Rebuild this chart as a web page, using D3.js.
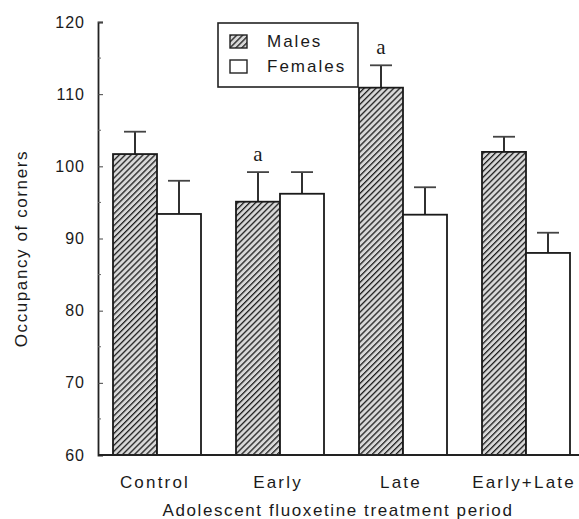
<!DOCTYPE html>
<html>
<head>
<meta charset="utf-8">
<script src="https://cdn.jsdelivr.net/npm/d3@7"></script>
<style>
  body { margin: 0; background: #fff; }
  text { font-family: "Liberation Sans", Arial, sans-serif; fill: #1a1a1a; }
</style>
</head>
<body>
<svg width="579" height="519"></svg>
<script>
const width = 579;
const height = 519;
const margin = { top: 22, right: 1, bottom: 64, left: 98 };

// data
const periods = ["Control", "Early", "Late", "Early+Late"];
const groups = ["Males", "Females"];
const males = [101.7, 95.1, 110.9, 102.0];
const malesErr = [3.1, 4.1, 3.1, 2.1];
const females = [93.4, 96.2, 93.3, 88.0];
const femalesErr = [4.6, 3.0, 3.8, 2.8];
const marks = ["", "a", "a", ""];
const yTicks = [60, 70, 80, 90, 100, 110, 120];

const svg = d3.select("svg");

// diagonal hatch for males
const pat = svg.append("defs").append("pattern")
  .attr("id", "hatch")
  .attr("patternUnits", "userSpaceOnUse")
  .attr("width", 4.2)
  .attr("height", 4.2)
  .attr("patternTransform", "rotate(45)");
pat.append("rect").attr("width", 4.2).attr("height", 4.2).attr("fill", "#d8d8d8");
pat.append("line")
  .attr("x1", 0).attr("y1", 0).attr("x2", 0).attr("y2", 4.2)
  .attr("stroke", "#1e1e1e").attr("stroke-width", 2.6);

const x0 = d3.scaleBand()
  .domain(periods)
  .range([113, 113 + 4 * 123]);

const x1 = d3.scaleBand()
  .domain(groups)
  .range([0, 88]);

const y = d3.scaleLinear()
  .domain([60, 120])
  .range([height - margin.bottom, margin.top]);

// y axis, ticks pointing inward
const yG = svg.append("g")
  .attr("transform", `translate(${margin.left},0)`)
  .call(d3.axisLeft(y)
    .tickValues(yTicks)
    .tickSize(-5)
    .tickPadding(13)
    .tickFormat(d3.format("d")));
yG.select(".domain").attr("stroke", "#222").attr("stroke-width", 1.8);
yG.selectAll(".tick line").attr("stroke", "#444");
yG.selectAll(".tick text")
  .attr("font-size", 16)
  .attr("letter-spacing", 1)
  .attr("fill", "#1a1a1a");

// minor ticks
svg.append("g")
  .selectAll("line")
  .data(d3.range(65, 120, 10))
  .join("line")
  .attr("x1", margin.left)
  .attr("x2", margin.left + 3)
  .attr("y1", d => y(d))
  .attr("y2", d => y(d))
  .attr("stroke", "#666");

const series = [
  { name: "Males", vals: males, err: malesErr, fill: "url(#hatch)" },
  { name: "Females", vals: females, err: femalesErr, fill: "#fff" }
];

const cx = (i, name) => x0(periods[i]) + x1(name) + x1.bandwidth() / 2;

series.forEach(s => {
  const g = svg.append("g");
  g.selectAll("rect")
    .data(s.vals)
    .join("rect")
    .attr("x", (d, i) => x0(periods[i]) + x1(s.name))
    .attr("y", d => y(d))
    .attr("width", x1.bandwidth())
    .attr("height", d => y(60) - y(d))
    .attr("fill", s.fill)
    .attr("stroke", "#1a1a1a")
    .attr("stroke-width", 1.8);

  g.selectAll(".err")
    .data(s.vals)
    .join("line")
    .attr("class", "err")
    .attr("x1", (d, i) => cx(i, s.name))
    .attr("x2", (d, i) => cx(i, s.name))
    .attr("y1", d => y(d))
    .attr("y2", (d, i) => y(d + s.err[i]))
    .attr("stroke", "#1a1a1a")
    .attr("stroke-width", 1.8);

  g.selectAll(".cap")
    .data(s.vals)
    .join("line")
    .attr("class", "cap")
    .attr("x1", (d, i) => cx(i, s.name) - 11)
    .attr("x2", (d, i) => cx(i, s.name) + 11)
    .attr("y1", (d, i) => y(d + s.err[i]))
    .attr("y2", (d, i) => y(d + s.err[i]))
    .attr("stroke", "#444")
    .attr("stroke-width", 1.8);
});

// significance letters above male bars
svg.append("g")
  .selectAll("text")
  .data(marks)
  .join("text")
  .attr("x", (d, i) => cx(i, "Males"))
  .attr("y", (d, i) => y(males[i] + malesErr[i]) - 11)
  .attr("text-anchor", "middle")
  .style("font-family", "'Liberation Serif', 'Times New Roman', serif")
  .attr("font-size", 21)
  .text(d => d);

// x axis baseline
svg.append("line")
  .attr("x1", margin.left)
  .attr("x2", width)
  .attr("y1", y(60))
  .attr("y2", y(60))
  .attr("stroke", "#222")
  .attr("stroke-width", 1.8);

// category labels
svg.append("g")
  .selectAll("text")
  .data(periods)
  .join("text")
  .attr("x", d => x0(d) + 42)
  .attr("y", 488)
  .attr("text-anchor", "middle")
  .attr("font-size", 17)
  .attr("letter-spacing", 2.2)
  .text(d => d);

// axis titles
svg.append("text")
  .attr("x", 338)
  .attr("y", 516)
  .attr("text-anchor", "middle")
  .attr("font-size", 17)
  .attr("letter-spacing", 1.6)
  .text("Adolescent fluoxetine treatment period");

svg.append("text")
  .attr("transform", `translate(27,${y(88.6)}) rotate(-90)`)
  .attr("text-anchor", "middle")
  .attr("font-size", 17)
  .attr("letter-spacing", 1.6)
  .text("Occupancy of corners");

// legend
const lg = svg.append("g").attr("transform", "translate(218,23)");
lg.append("rect")
  .attr("width", 140)
  .attr("height", 64)
  .attr("fill", "#fff")
  .attr("stroke", "#222")
  .attr("stroke-width", 1.6);
const item = lg.selectAll(".item")
  .data(series)
  .join("g")
  .attr("class", "item")
  .attr("transform", (d, i) => `translate(12,${12 + i * 25})`);
item.append("rect")
  .attr("width", 17)
  .attr("height", 13)
  .attr("fill", d => d.fill)
  .attr("stroke", "#222")
  .attr("stroke-width", 1.4);
item.append("text")
  .attr("x", 37)
  .attr("y", 12)
  .attr("font-size", 17)
  .attr("letter-spacing", 2)
  .text(d => d.name);
</script>
</body>
</html>
